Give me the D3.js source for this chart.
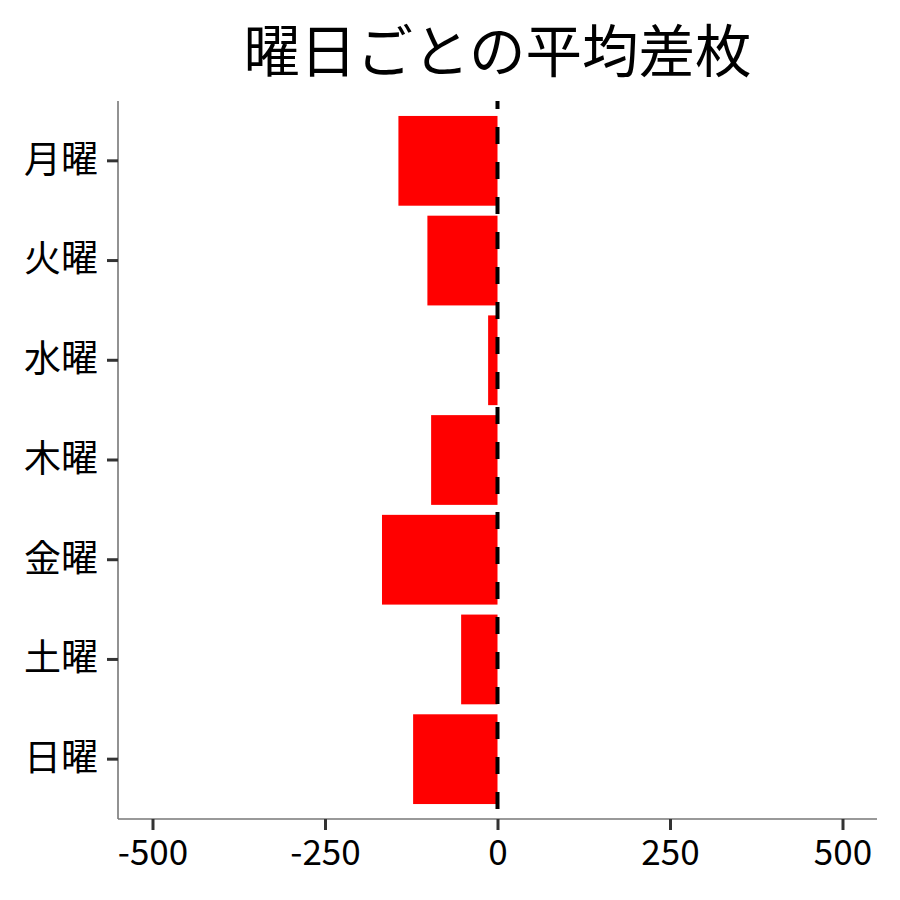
<!DOCTYPE html>
<html>
<head>
<meta charset="utf-8">
<script src="https://cdn.jsdelivr.net/npm/d3@7"></script>
<style>
  body { margin: 0; background: #fff; }
  text { font-family: "Noto Sans CJK JP", "Noto Sans", sans-serif; }
</style>
</head>
<body>
<div id="chart"></div>
<script>
// data
const days = ["月曜", "火曜", "水曜", "木曜", "金曜", "土曜", "日曜"];
const avgDiff = [-143.6, -101.6, -13.6, -96.2, -167.4, -52.7, -122.3];
const xTicks = [-500, -250, 0, 250, 500];
const title = "曜日ごとの平均差枚";

let margin = {top: 101, right: 23, bottom: 81, left: 118};
let width = 900 - margin.left - margin.right, height = 900 - margin.top - margin.bottom;

var svg = d3.select("#chart")
    .append("svg")
        .attr("width", 900)
        .attr("height", 900)
    .append("g")
        .attr("transform", "translate(" + margin.left + "," + margin.top + ")");

var x = d3.scaleLinear()
    .domain([-550, 550])
    .range([0, width]);

// ggplot style discrete axis: 0.6 unit padding at each end, bars 0.9 wide
var y = d3.scaleBand()
    .domain(days)
    .range([0, height])
    .paddingInner(0.1)
    .paddingOuter(0.15);

// bars
svg.append("g")
    .selectAll("rect")
    .data(days)
    .enter()
    .append("rect")
        .attr("x", function (d, i) { return x(Math.min(0, avgDiff[i])); })
        .attr("width", function (d, i) { return Math.abs(x(avgDiff[i]) - x(0)); })
        .attr("y", function (d) { return y(d); })
        .attr("height", y.bandwidth())
        .attr("fill", "#ff0000");

// zero reference line
svg.append("line")
    .attr("x1", x(0)).attr("x2", x(0))
    .attr("y1", 0).attr("y2", height)
    .attr("stroke", "#000")
    .attr("stroke-width", 4)
    .attr("stroke-dasharray", "17,18")
    .attr("stroke-dashoffset", 9);

// x axis
var xAxis = svg.append("g")
    .attr("transform", "translate(0," + height + ")")
    .call(d3.axisBottom(x).tickValues(xTicks).tickSize(11).tickPadding(10).tickFormat(function (d) { return String(d); }));
xAxis.select(".domain").attr("stroke", "#777").attr("stroke-width", 1.6)
    .attr("d", "M0,0H" + width);
xAxis.selectAll(".tick line").attr("stroke", "#333").attr("stroke-width", 3);
xAxis.selectAll(".tick text")
    .attr("fill", "#000")
    .style("font-size", "35px")
    .attr("font-family", "Noto Sans CJK JP");

// y axis
var yAxis = svg.append("g")
    .call(d3.axisLeft(y).tickSize(11).tickPadding(9));
yAxis.select(".domain").attr("stroke", "#777").attr("stroke-width", 1.6)
    .attr("d", "M0,0V" + height);
yAxis.selectAll(".tick line").attr("stroke", "#333").attr("stroke-width", 3);
yAxis.selectAll(".tick text")
    .attr("fill", "#000")
    .style("font-size", "37px")
    .attr("font-family", "Noto Sans CJK JP");

// title
svg.append("text")
    .attr("x", width / 2)
    .attr("y", 47 - margin.top)
    .attr("text-anchor", "middle")
    .attr("dominant-baseline", "central")
    .style("font-size", "56.5px")
    .attr("fill", "#000")
    .text(title);
</script>
</body>
</html>
